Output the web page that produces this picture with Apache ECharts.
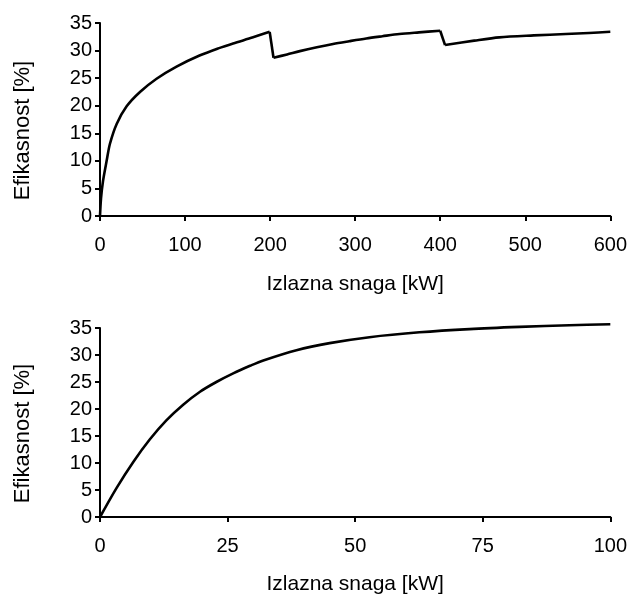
<!DOCTYPE html>
<html>
<head>
<meta charset="utf-8">
<script src="https://cdn.jsdelivr.net/npm/echarts@6/dist/echarts.min.js"></script>
<style>html,body{margin:0;padding:0;background:#fff;}#c{width:630px;height:596px;}</style>
</head>
<body>
<div id="c"></div>
<script>
// Top chart: output power [kW] vs efficiency [%], three stages
const topPowerA = [0, 1.2, 3.5, 7.8, 11.7, 19.6, 31.3, 47, 66.5, 90, 117, 139, 156.5, 180, 199.5];
const topEffA   = [0, 3.2, 6.3, 10.0, 13.1, 16.7, 19.9, 22.5, 24.9, 27.1, 29.1, 30.4, 31.3, 32.4, 33.4];
const topPowerB = [204, 220, 235, 255, 274, 293, 313, 332, 352, 375, 400];
const topEffB   = [28.7, 29.3, 29.9, 30.6, 31.2, 31.7, 32.2, 32.6, 33.0, 33.3, 33.6];
const topPowerC = [405.7, 440, 469.5, 510, 547.7, 575, 600];
const topEffC   = [31.0, 31.8, 32.4, 32.75, 33.0, 33.2, 33.4];
// Bottom chart
const botPower = [0, 3.26, 6.52, 9.78, 13, 16.3, 19.6, 22.8, 26.1, 29.4, 32, 38.5, 45, 52.8, 62.6, 72.4, 82.2, 92, 100];
const botEff   = [0, 5.4, 10.2, 14.4, 17.9, 20.8, 23.2, 25.0, 26.6, 28.0, 29.0, 30.9, 32.2, 33.3, 34.2, 34.8, 35.2, 35.5, 35.7];

const xTicksTop = [0, 100, 200, 300, 400, 500, 600];
const xTicksBot = [0, 25, 50, 75, 100];
const yTicks = [0, 5, 10, 15, 20, 25, 30, 35];

const xTitle = 'Izlazna snaga [kW]';
const yTitle = 'Efikasnost [%]';

const FONT = '"Liberation Sans", Arial, sans-serif';
const axisLine = {show: true, onZero: false, lineStyle: {color: '#000', width: 2}};
const axisTick = {show: true, length: 5, lineStyle: {color: '#000', width: 2}};

function xAxis(idx, ticks, gap) {
  return {
    type: 'value', gridIndex: idx,
    min: ticks[0], max: ticks[ticks.length - 1], interval: ticks[1] - ticks[0],
    axisLine, axisTick, splitLine: {show: false},
    axisLabel: {color: '#000', fontSize: 20, fontFamily: FONT, margin: 19},
    name: xTitle, nameLocation: 'middle', nameGap: gap,
    nameTextStyle: {color: '#000', fontSize: 21, fontFamily: FONT}
  };
}
function yAxis(idx) {
  return {
    type: 'value', gridIndex: idx,
    min: yTicks[0], max: yTicks[yTicks.length - 1], interval: yTicks[1] - yTicks[0],
    axisLine, axisTick, splitLine: {show: false},
    axisLabel: {color: '#000', fontSize: 20, fontFamily: FONT, margin: 8},
    name: yTitle, nameLocation: 'middle', nameGap: 66,
    nameTextStyle: {color: '#000', fontSize: 22, fontFamily: FONT, padding: [0, 22, 0, 0]}
  };
}
function pairs(xs, ys) { return xs.map((x, i) => [x, ys[i]]); }
function line(gi, data, sm) {
  return {type: 'line', xAxisIndex: gi, yAxisIndex: gi, data: data, showSymbol: false,
          smooth: sm, clip: false, lineStyle: {color: '#000', width: 2.6, join: 'miter'}};
}
const A = pairs(topPowerA, topEffA), B = pairs(topPowerB, topEffB), C = pairs(topPowerC, topEffC);
// straight transitions at the stage switches
const drop1 = [A[A.length - 1], B[0]];
const drop2 = [B[B.length - 1], C[0]];

const chart = echarts.init(document.getElementById('c'), null, {renderer: 'canvas'});
chart.setOption({
  backgroundColor: '#fff',
  animation: false,
  grid: [
    {left: 100, top: 23, width: 511, height: 193},
    {left: 100, top: 328, width: 511, height: 193}
  ],
  xAxis: [xAxis(0, xTicksTop, 58), xAxis(1, xTicksBot, 57)],
  yAxis: [yAxis(0), yAxis(1)],
  series: [
    line(0, A, 0.3),
    line(0, drop1, false),
    line(0, B, 0.3),
    line(0, drop2, false),
    line(0, C, 0.3),
    line(1, pairs(botPower, botEff), 0.3)
  ]
});
</script>
</body>
</html>
